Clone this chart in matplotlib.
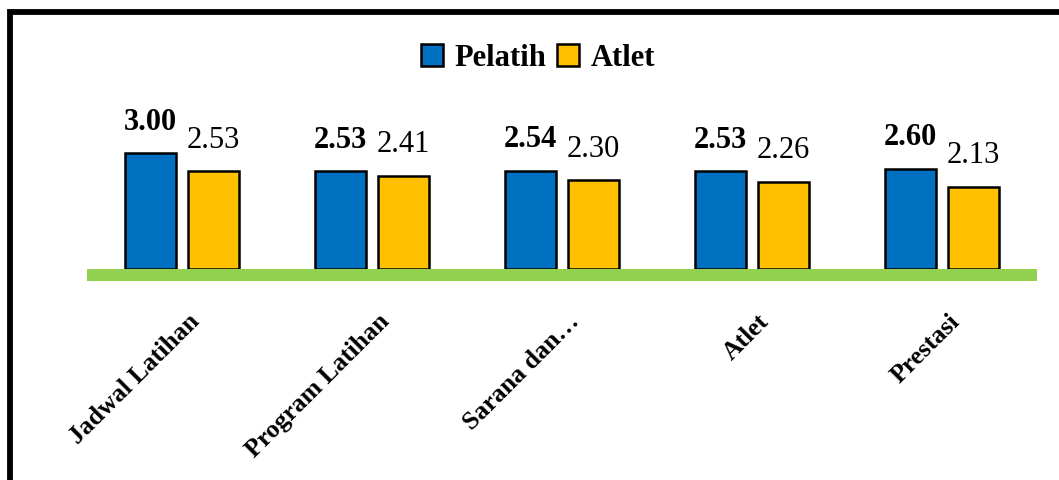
import numpy as np
import matplotlib
matplotlib.use("Agg")
import matplotlib.pyplot as plt
from matplotlib.patches import Rectangle, Patch

# ---------------------------------------------------------------
# data
# ---------------------------------------------------------------
categories = ["Jadwal Latihan", "Program Latihan", "Sarana dan…", "Atlet", "Prestasi"]
pelatih = [3.00, 2.53, 2.54, 2.53, 2.60]
atlet = [2.53, 2.41, 2.30, 2.26, 2.13]
series_names = ["Pelatih", "Atlet"]

BLUE = "#0070C0"
YELLOW = "#FFC000"
GREEN = "#92D050"
FONT = "Liberation Serif"

plt.rcParams["font.family"] = [FONT, "DejaVu Serif"]

fig = plt.figure(figsize=(10.59, 4.8), dpi=100)

# outer black frame (cut off at right / bottom like the reference)
frame = Rectangle((10 / 1059, -0.2), 2.0, 1.2 - 12 / 480, transform=fig.transFigure,
                  fill=False, edgecolor="black", linewidth=4.2, clip_on=False)
fig.patches.append(frame)

ax = fig.add_axes([87 / 1059, 0.4156, 950 / 1059, 0.3056])

x = np.arange(len(categories))
w = 0.27
off = 0.167

ax.bar(x - off, pelatih, w, color=BLUE, edgecolor="black", linewidth=1.8, zorder=2)
ax.bar(x + off, atlet, w, color=YELLOW, edgecolor="black", linewidth=1.8, zorder=2)

# green base band
ax.axhspan(-0.29, 0, color=GREEN, zorder=3, linewidth=0)

for xi, v in zip(x, pelatih):
    ax.annotate(f"{v:.2f}", (xi - off, v), xytext=(0, 17), textcoords="offset points",
                ha="center", va="baseline", fontsize=22, fontweight="bold")
for xi, v in zip(x, atlet):
    ax.annotate(f"{v:.2f}", (xi + off, v), xytext=(0, 17), textcoords="offset points",
                ha="center", va="baseline", fontsize=22)

for xi, lab in zip(x, categories):
    ax.text(xi + 0.03, -1.05, lab, rotation=45, ha="right", va="top",
            rotation_mode="anchor", fontsize=18.5, fontweight="bold")

ax.set_xlim(-0.5, len(categories) - 0.5)
ax.set_ylim(-0.29, 3.5)
ax.axis("off")

handles = [Patch(facecolor=BLUE, edgecolor="black", linewidth=1.8),
           Patch(facecolor=YELLOW, edgecolor="black", linewidth=1.8)]
fig.legend(handles, series_names, loc="center", bbox_to_anchor=(538 / 1059, 1 - 58 / 480),
           ncol=2, frameon=False, prop={"family": FONT, "weight": "bold", "size": 22},
           handlelength=0.72, handleheight=0.72, handletextpad=0.37, columnspacing=0.37,
           borderpad=0.2)

fig.savefig("out.png", dpi=100)
